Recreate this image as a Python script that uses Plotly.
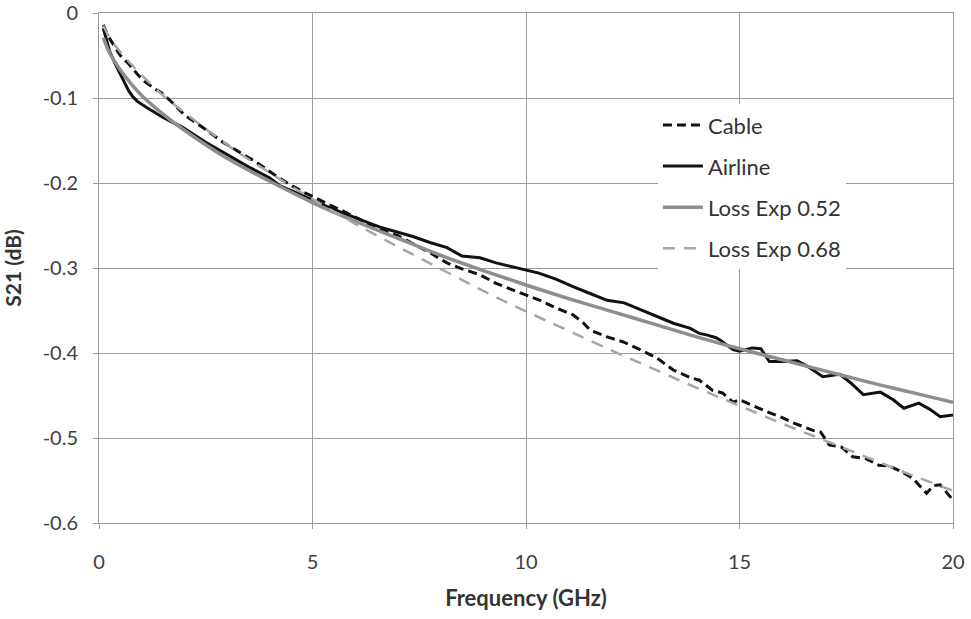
import plotly.graph_objects as go

# Measured S21 of the cable (GHz, dB)
cable_f = [0.1, 0.2, 0.37, 0.5, 0.68, 0.9, 1.08, 1.3, 1.47, 1.75, 2.0, 2.5, 2.9, 3.3, 3.7,
           4.1, 4.47, 4.8, 5.0, 5.25, 5.5, 5.8, 6.2, 6.58, 7.0, 7.35, 7.75, 8.15, 8.5, 8.92,
           9.3, 9.7, 10.0, 10.33, 10.7, 11.1, 11.33, 11.5, 11.9, 12.28, 12.67, 13.07, 13.45,
           13.85, 14.06, 14.25, 14.37, 14.6, 14.85, 15.0, 15.3, 15.64, 16.0, 16.25, 16.72,
           16.9, 17.1, 17.4, 17.65, 17.95, 18.26, 18.5, 18.73, 19.05, 19.38, 19.55, 19.7, 20.0]
cable_db = [-0.014, -0.026, -0.040, -0.050, -0.059, -0.072, -0.081, -0.089, -0.094, -0.107,
            -0.120, -0.137, -0.152, -0.164, -0.176, -0.190, -0.202, -0.211, -0.216, -0.222,
            -0.228, -0.235, -0.245, -0.255, -0.262, -0.271, -0.282, -0.294, -0.301, -0.308,
            -0.318, -0.326, -0.332, -0.338, -0.347, -0.355, -0.364, -0.373, -0.381, -0.387,
            -0.396, -0.406, -0.420, -0.429, -0.432, -0.440, -0.444, -0.447, -0.458, -0.455,
            -0.462, -0.469, -0.476, -0.482, -0.491, -0.493, -0.508, -0.511, -0.522, -0.524,
            -0.532, -0.533, -0.538, -0.547, -0.565, -0.556, -0.555, -0.573]

# Measured S21 of the airline (GHz, dB)
airline_f = [0.1, 0.15, 0.25, 0.37, 0.5, 0.61, 0.7, 0.8, 0.9, 1.08, 1.3, 1.47, 1.7, 1.94,
             2.5, 3.0, 3.5, 4.0, 4.23, 4.6, 5.0, 5.4, 5.8, 6.2, 6.58, 7.0, 7.35, 7.75, 8.15,
             8.5, 8.92, 9.3, 9.7, 10.0, 10.3, 10.7, 11.1, 11.5, 11.9, 12.3, 12.67, 13.05,
             13.45, 13.85, 14.06, 14.25, 14.45, 14.55, 14.85, 15.0, 15.3, 15.5, 15.7, 16.0,
             16.35, 16.6, 16.95, 17.35, 17.6, 17.9, 18.3, 18.6, 18.85, 19.2, 19.45, 19.7, 20.0]
airline_db = [-0.018, -0.028, -0.045, -0.059, -0.072, -0.082, -0.092, -0.099, -0.104, -0.110,
              -0.117, -0.122, -0.128, -0.134, -0.152, -0.167, -0.181, -0.194, -0.203, -0.211,
              -0.220, -0.229, -0.237, -0.245, -0.252, -0.258, -0.263, -0.270, -0.276, -0.286,
              -0.288, -0.294, -0.299, -0.302, -0.306, -0.313, -0.322, -0.330, -0.338, -0.341,
              -0.349, -0.357, -0.365, -0.371, -0.377, -0.379, -0.382, -0.385, -0.396, -0.398,
              -0.394, -0.395, -0.410, -0.410, -0.409, -0.416, -0.428, -0.425, -0.435, -0.449,
              -0.446, -0.455, -0.465, -0.459, -0.466, -0.475, -0.473]

# Loss-model curves (GHz, dB)
model_f = [0.1, 0.25, 0.5, 0.75, 1, 1.5, 2, 3, 4, 5, 6, 7, 8, 9, 10,
           11, 12, 13, 14, 15, 16, 17, 18, 19, 20]
exp052_db = [-0.029, -0.047, -0.067, -0.083, -0.097, -0.119, -0.138, -0.171, -0.198, -0.223,
             -0.245, -0.265, -0.285, -0.303, -0.320, -0.336, -0.351, -0.366, -0.381, -0.395,
             -0.408, -0.421, -0.434, -0.446, -0.458]
exp068_db = [-0.015, -0.029, -0.046, -0.060, -0.073, -0.097, -0.117, -0.155, -0.188, -0.219,
             -0.248, -0.275, -0.301, -0.327, -0.351, -0.374, -0.397, -0.419, -0.441, -0.462,
             -0.483, -0.503, -0.523, -0.543, -0.562]

y_ticks = [0, -0.1, -0.2, -0.3, -0.4, -0.5, -0.6]
y_tick_text = ["0", "-0.1", "-0.2", "-0.3", "-0.4", "-0.5", "-0.6"]
x_ticks = [0, 5, 10, 15, 20]

FONT = "Lato"
TXT = "#404040"
GRID = "#9c9c9c"

fig = go.Figure()
fig.add_trace(go.Scatter(x=cable_f, y=cable_db, mode="lines", name="Cable", legendgroup="a",
                         line=dict(color="#111111", width=3, dash="9px,5px")))
fig.add_trace(go.Scatter(x=airline_f, y=airline_db, mode="lines", name="Airline", legendgroup="b",
                         line=dict(color="#111111", width=3)))
fig.add_trace(go.Scatter(x=model_f, y=exp052_db, mode="lines", name="Loss Exp 0.52",
                         legendgroup="c", line=dict(color="#8e8e8e", width=3.5, shape="spline")))
fig.add_trace(go.Scatter(x=model_f, y=exp068_db, mode="lines", name="Loss Exp 0.68",
                         legendgroup="d",
                         line=dict(color="#a6a6a6", width=2.5, dash="12px,9px", shape="spline")))

fig.update_layout(
    width=971, height=619,
    margin=dict(l=99, r=18, t=13, b=96),
    paper_bgcolor="white", plot_bgcolor="white",
    font=dict(family=FONT, color=TXT, size=20),
    showlegend=True,
    legend=dict(x=0.6545, y=0.8212, xanchor="left", yanchor="top",
                bgcolor="white", borderwidth=0, tracegroupgap=9.5,
                font=dict(family=FONT, size=22, color="#333333"),
                itemwidth=40),
    xaxis=dict(range=[0, 20], tickvals=x_ticks, showgrid=True, gridcolor=GRID, gridwidth=1,
               showline=True, linecolor=GRID, linewidth=1, mirror=True, automargin=False,
               ticks="outside", ticklen=5, tickcolor=GRID, zeroline=False,
               ticklabelstandoff=16,
               tickfont=dict(size=20, color=TXT),
               title=dict(text="<b>Frequency (GHz)</b>", font=dict(size=22, color="#333333"),
                          standoff=18)),
    yaxis=dict(range=[-0.6, 0], tickvals=y_ticks, ticktext=y_tick_text, showgrid=True,
               gridcolor=GRID, gridwidth=1, showline=True, linecolor=GRID, linewidth=1,
               mirror=True, ticks="outside", ticklen=5, tickcolor=GRID, zeroline=False,
               automargin=False, ticklabelstandoff=11,
               tickfont=dict(size=20, color=TXT),
               title=dict(text="<b>S21 (dB)</b>", font=dict(size=21, color="#333333"),
                          standoff=19)),
)

fig.write_html("out.html")
